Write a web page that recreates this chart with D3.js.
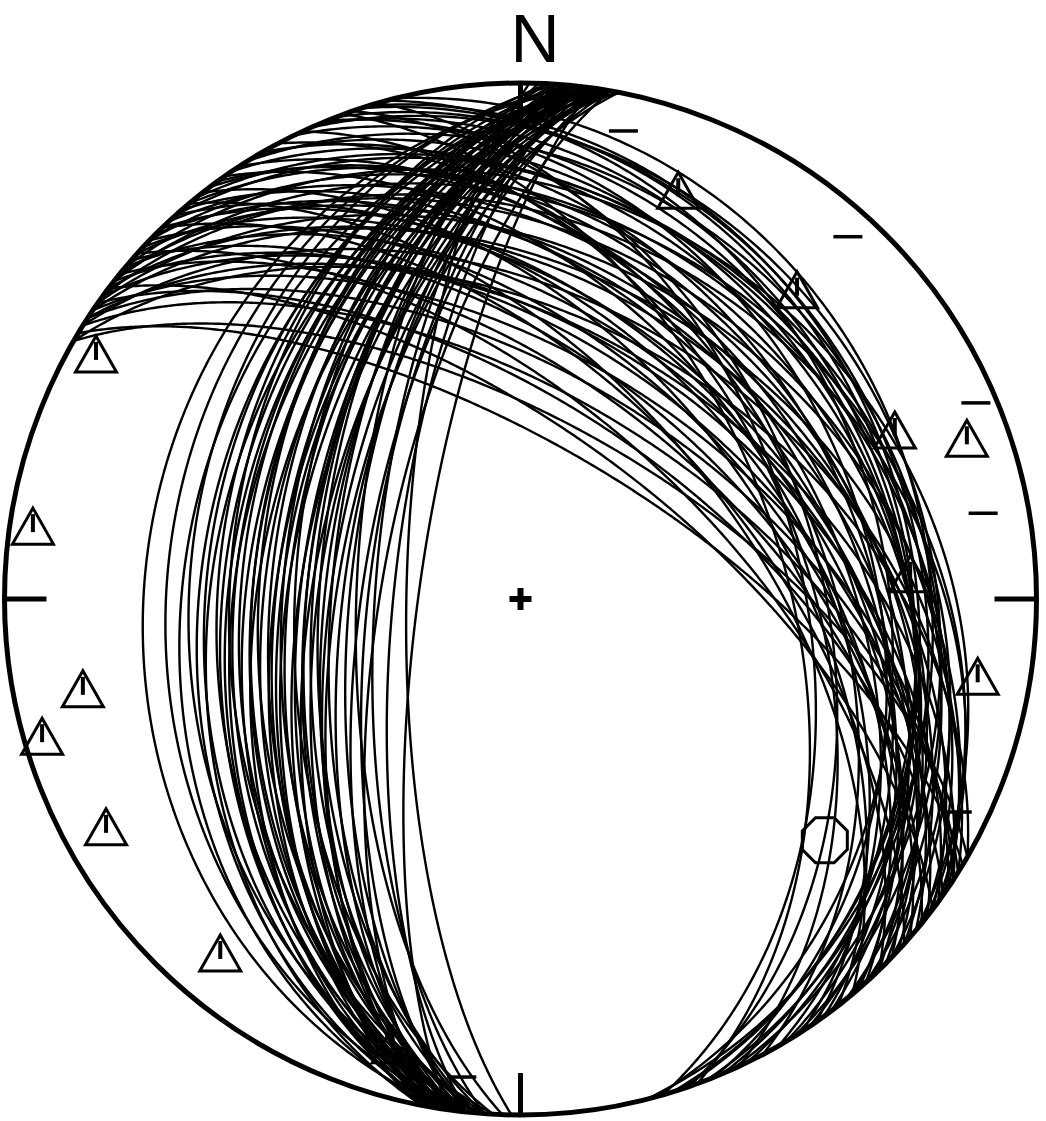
<!DOCTYPE html>
<html><head><meta charset="utf-8">
<script src="https://cdn.jsdelivr.net/npm/d3@7"></script>
<style>html,body{margin:0;padding:0;background:#fff;}svg{display:block;}</style>
</head><body>
<svg id="chart" width="1046" height="1121"></svg>
<script>
// Planes (strike, dip) — right-hand rule, lower hemisphere, equal-area net
const setWestDipping = [
  [188,28],[186,32],[190,35],[184,36],[189,38],[187,39],[191,40],[185,41],[188,42],[183,43],
  [190,44],[186,45],[189,46],[187,47],[184,48],[191,48],[188,49],[186,50],[190,51],[185,52],
  [189,52],[187,53],[183,54],[190,55],[188,55],[186,56],[191,57],[184,58],[189,58],[187,59],
  [185,60],[190,61],[188,62],[186,63],[182,64],[189,65],[187,66],[184,67],[190,68],[186,70],
  [181,72],[188,74],[189,43],[186,47],[188,51],[190,53],[187,56],[185,57],[189,60],[187,44]
];
const setNEDipping = [
  [301,66],[300,62],[302,58],[303,55],[304,52],[305,60],[306,48],[300,45],[307,64],[308,50],
  [302,42],[309,56],[310,46],[304,38],[311,53],[312,60],[305,35],[313,44],[306,30],[314,50],
  [315,40],[308,28],[316,55],[317,36],[318,47],[310,25],[319,42],[320,32],[322,50],[321,27],
  [324,38],[325,45],[326,30],[328,24],[330,35],[332,42],[334,28],[336,22],[338,33],[340,48],
  [342,26],[345,30],[346,22],[344,45],[343,25],[303,47],[307,40],[309,33],[312,38],[314,29],
  [316,45],[318,26],[320,55],[323,35],[327,40],[329,29],[335,45],[337,27],[341,42],[339,24]
];
// Linear data (trend, plunge)
const triangleData = [
  [21.1,16.2],[41.8,20.7],[65.7,21.5],[70.2,8.9],[86.3,25.3],[99.6,11.1],
  [300.0,5.6],[278.5,5.0],[258.4,14.5],[254.0,4.0],[241.2,9.2],[220.3,11.0],[196.0,11.1]
];
const dashData = [
  [12.4,7.9],[42.1,6.0],[66.7,4.4],[79.5,9.7],[116.0,6.5],[187.0,7.4]
];
const octagonData = [[128.4,25.7]];
const northLabel = "N";

const cx = 520.5, cy = 599, R = 516;
const svg = d3.select("#chart");
const x = d3.scaleLinear().domain([-1,1]).range([cx-R, cx+R]);
const y = d3.scaleLinear().domain([-1,1]).range([cy+R, cy-R]);
const rad = Math.PI/180;

function project(trend, plunge){
  const r = Math.SQRT2*Math.sin((90-plunge)/2*rad);
  return [x(r*Math.sin(trend*rad)), y(r*Math.cos(trend*rad))];
}
function greatCircle(strike, dip){
  const s = strike*rad, dd = (strike+90)*rad, d = dip*rad;
  const S = [Math.cos(s), Math.sin(s), 0];
  const D = [Math.cos(d)*Math.cos(dd), Math.cos(d)*Math.sin(dd), Math.sin(d)];
  const pts = [];
  for (let t=0; t<=180.0001; t+=0.5){
    const c = Math.cos(t*rad), sn = Math.sin(t*rad);
    const n = c*S[0]+sn*D[0], e = c*S[1]+sn*D[1], dn = Math.max(0, c*S[2]+sn*D[2]);
    const trend = Math.atan2(e, n)/rad;
    const plunge = Math.asin(Math.min(1,dn))/rad;
    pts.push(project(trend, plunge));
  }
  return pts;
}
const line = d3.line();

const gc = svg.append("g").attr("fill","none").attr("stroke","#000").attr("stroke-width",2.4);
setWestDipping.concat(setNEDipping).forEach(p=>{
  gc.append("path").attr("d", line(greatCircle(p[0], p[1])));
});

// primitive
svg.append("circle").attr("cx",x(0)).attr("cy",y(0)).attr("r",x(1)-x(0))
  .attr("fill","none").attr("stroke","#000").attr("stroke-width",5);

// cardinal ticks
const tickLen = 42/R;
const ticks = svg.append("g").attr("stroke","#000").attr("stroke-width",5);
[[0,1,0,1-tickLen],[0,-1,0,-1+tickLen],[-1,0,-1+tickLen,0],[1,0,1-tickLen,0]].forEach(t=>{
  ticks.append("line").attr("x1",x(t[0])).attr("y1",y(t[1])).attr("x2",x(t[2])).attr("y2",y(t[3]));
});
// centre cross
const cs = 11/R;
svg.append("path").attr("d",`M${x(-cs)},${y(0)}H${x(cs)}M${x(0)},${y(-cs)}V${y(cs)}`)
  .attr("stroke","#000").attr("stroke-width",6);

// N label
svg.append("text").attr("x",535).attr("y",62).attr("text-anchor","middle")
  .attr("font-family","Liberation Sans, Arial, sans-serif").attr("font-size",68).text(northLabel);

// symbols
const sym = svg.append("g").attr("fill","none").attr("stroke","#000").attr("stroke-width",3);
triangleData.forEach(p=>{
  const [px,py] = project(p[0],p[1]);
  sym.append("path").attr("d",`M${px},${py-18}L${px+20.5},${py+18}L${px-20.5},${py+18}Z`);
  sym.append("line").attr("x1",px).attr("y1",py-12).attr("x2",px).attr("y2",py+6).attr("stroke-width",4);
});
dashData.forEach(p=>{
  const [px,py] = project(p[0],p[1]);
  sym.append("line").attr("x1",px-14.5).attr("y1",py).attr("x2",px+14.5).attr("y2",py).attr("stroke-width",3.5);
});
octagonData.forEach(p=>{
  const [px,py] = project(p[0],p[1]);
  const pts = d3.range(8).map(i=>{const a=(22.5+45*i)*rad; return [px+22.5*Math.cos(a)/Math.cos(22.5*rad), py+22.5*Math.sin(a)/Math.cos(22.5*rad)];});
  sym.append("path").attr("d", d3.line()(pts)+"Z");
});
</script>
</body></html>
